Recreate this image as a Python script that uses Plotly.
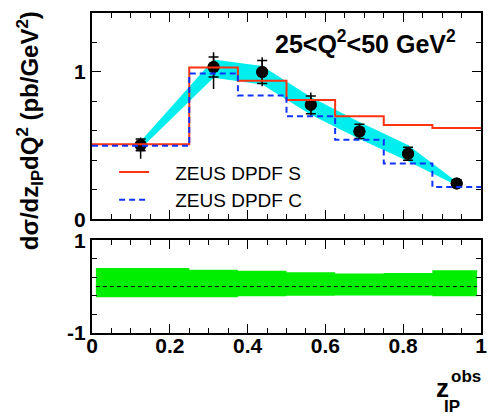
import plotly.graph_objects as go

# ---- data ----
centers = [0.125, 0.3125, 0.4375, 0.5625, 0.6875, 0.8125, 0.9375]
data_y = [0.505, 1.034, 1.0, 0.777, 0.597, 0.445, 0.244]
stat_err = [0.04, 0.068, 0.078, 0.06, 0.048, 0.044, 0.02]
tot_up = [0.05, 0.10, 0.10, 0.083, 0.054, 0.044, 0.02]
tot_dn = [0.094, 0.15, 0.096, 0.074, 0.054, 0.044, 0.02]
band_lo = [0.48, 0.96, 0.915, 0.71, 0.545, 0.395, 0.23]
band_hi = [0.53, 1.085, 1.04, 0.83, 0.66, 0.505, 0.255]
bin_edges = [0.0, 0.25, 0.375, 0.5, 0.625, 0.75, 0.875, 1.0]
dpdf_s = [0.51, 1.03, 0.94, 0.81, 0.70, 0.64, 0.62]
dpdf_c = [0.50, 0.99, 0.84, 0.70, 0.54, 0.38, 0.22]
ratio_edges = [0.01, 0.25, 0.375, 0.5, 0.625, 0.75, 0.875, 0.99]
ratio_hi = [0.40, 0.36, 0.34, 0.31, 0.28, 0.29, 0.35]
ratio_lo = [-0.23, -0.23, -0.21, -0.20, -0.19, -0.19, -0.21]
ratio_ref = [0.0, 0.0]
x_ticks = [0, 0.2, 0.4, 0.6, 0.8, 1.0]
x_ticklabels = ["0", "0.2", "0.4", "0.6", "0.8", "1"]

W, H = 489, 419
L, R, T, B = 91.5, 1.5, 9, 86
PW, PH = W - L - R, H - T - B

def px_x(p):
    return (p - L) / PW

def px_y(p):
    return (H - B - p) / PH

FONT = "Liberation Sans, Arial, sans-serif"
fig = go.Figure()

# cyan band
fig.add_trace(go.Scatter(
    x=centers + centers[::-1], y=band_hi + band_lo[::-1],
    fill="toself", fillcolor="#00EEEE", line=dict(width=0),
    mode="lines", showlegend=False, hoverinfo="skip", xaxis="x", yaxis="y"))

# total error (line, no caps)
fig.add_trace(go.Scatter(
    x=centers, y=data_y, mode="markers",
    marker=dict(size=12, color="black"),
    error_y=dict(type="data", symmetric=False, array=tot_up, arrayminus=tot_dn,
                 width=0, thickness=1.5, color="black"),
    showlegend=False, xaxis="x", yaxis="y"))
# stat error (caps)
fig.add_trace(go.Scatter(
    x=centers, y=data_y, mode="markers",
    marker=dict(size=12, color="black"),
    error_y=dict(type="data", array=stat_err, width=5, thickness=1.5, color="black"),
    showlegend=False, xaxis="x", yaxis="y"))

# histograms
fig.add_trace(go.Scatter(
    x=bin_edges, y=dpdf_s + dpdf_s[-1:], mode="lines", line_shape="hv",
    line=dict(color="#FF3311", width=2),
    name="\u00a0\u00a0\u00a0\u00a0ZEUS DPDF S", xaxis="x", yaxis="y"))
fig.add_trace(go.Scatter(
    x=bin_edges, y=dpdf_c + dpdf_c[-1:], mode="lines", line_shape="hv",
    line=dict(color="#1133FF", width=2, dash="6px,4px"),
    name="\u00a0\u00a0\u00a0\u00a0ZEUS DPDF C", xaxis="x", yaxis="y"))

# ratio band
fig.add_trace(go.Scatter(
    x=ratio_edges, y=ratio_lo + ratio_lo[-1:], mode="lines", line_shape="hv",
    line=dict(width=0, color="#00EE00"), showlegend=False, xaxis="x2", yaxis="y2"))
fig.add_trace(go.Scatter(
    x=ratio_edges, y=ratio_hi + ratio_hi[-1:], mode="lines", line_shape="hv",
    line=dict(width=0, color="#00EE00"), fill="tonexty", fillcolor="#00EE00",
    showlegend=False, xaxis="x2", yaxis="y2"))
fig.add_trace(go.Scatter(
    x=[ratio_edges[0], ratio_edges[-1]], y=ratio_ref, mode="lines",
    line=dict(color="black", width=1, dash="4px,3px"),
    showlegend=False, xaxis="x2", yaxis="y2"))

axis_common = dict(showline=True, linecolor="black", linewidth=2, mirror="ticks",
                   ticks="inside", tickcolor="black", tickwidth=1, showgrid=False,
                   zeroline=False, ticklabeloverflow="allow",
                   tickfont=dict(family=FONT, size=21, color="black", weight="bold"))

xt = dict(range=[0, 1], tickmode="array", tickvals=x_ticks, ticktext=x_ticklabels, ticklen=9,
          minor=dict(dtick=0.05, tick0=0, ticklen=5, ticks="inside", tickcolor="black",
                     showgrid=False))

fig.update_layout(
    width=W, height=H, margin=dict(l=L, r=R, t=T, b=B),
    paper_bgcolor="white", plot_bgcolor="white",
    xaxis=dict(**axis_common, **xt, anchor="y", showticklabels=False),
    xaxis2=dict(**axis_common, **xt, anchor="y2", ticklabelstandoff=-7),
    yaxis=dict(**axis_common, domain=[px_y(218), 1], range=[0, 1.4], anchor="x",
               tickmode="array", tickvals=[0, 1], ticktext=["0", "1"], ticklen=9,
               minor=dict(tickvals=[0.2, 0.4, 0.6, 0.8, 1.2], ticklen=5, ticks="inside",
                          tickcolor="black", showgrid=False)),
    yaxis2=dict(**axis_common, domain=[0, px_y(239)], range=[-1, 1], anchor="x2",
                tickmode="array", tickvals=[-1, 1], ticktext=["-1", "1"], ticklen=9,
                minor=dict(tickvals=[-0.6, -0.2, 0.2, 0.6], ticklen=5, ticks="inside",
                           tickcolor="black", showgrid=False)),
    legend=dict(x=px_x(114), y=px_y(151), xanchor="left", yanchor="top",
                traceorder="normal",
                bgcolor="rgba(0,0,0,0)", font=dict(family=FONT, size=19, color="black"),
                tracegroupgap=0),
    showlegend=True,
)

ann = []
ann.append(dict(text="<b>25&lt;Q<sup>2</sup>&lt;50 GeV<sup>2</sup></b>", xref="paper", yref="paper",
                x=px_x(464), y=px_y(38), xanchor="right", yanchor="middle", showarrow=False,
                font=dict(family=FONT, size=25, color="black")))
ann.append(dict(text="<b>d\u03c3/dz<sub>IP</sub>dQ<sup>2</sup> (pb/GeV<sup>2</sup>)</b>",
                xref="paper", yref="paper", x=px_x(28), y=px_y(128), textangle=-90,
                xanchor="center", yanchor="middle", showarrow=False,
                font=dict(family=FONT, size=24, color="black")))
ann.append(dict(text="<b>z</b>", xref="paper", yref="paper", x=px_x(448), y=px_y(389),
                xanchor="center", yanchor="middle", showarrow=False,
                font=dict(family=FONT, size=26, color="black")))
ann.append(dict(text="<b>obs</b>", xref="paper", yref="paper", x=px_x(455), y=px_y(377),
                xanchor="left", yanchor="middle", showarrow=False,
                font=dict(family=FONT, size=17, color="black")))
ann.append(dict(text="<b>IP</b>", xref="paper", yref="paper", x=px_x(458), y=px_y(407),
                xanchor="center", yanchor="middle", showarrow=False,
                font=dict(family=FONT, size=17, color="black")))
fig.update_layout(annotations=ann)

fig.write_html("out.html")
